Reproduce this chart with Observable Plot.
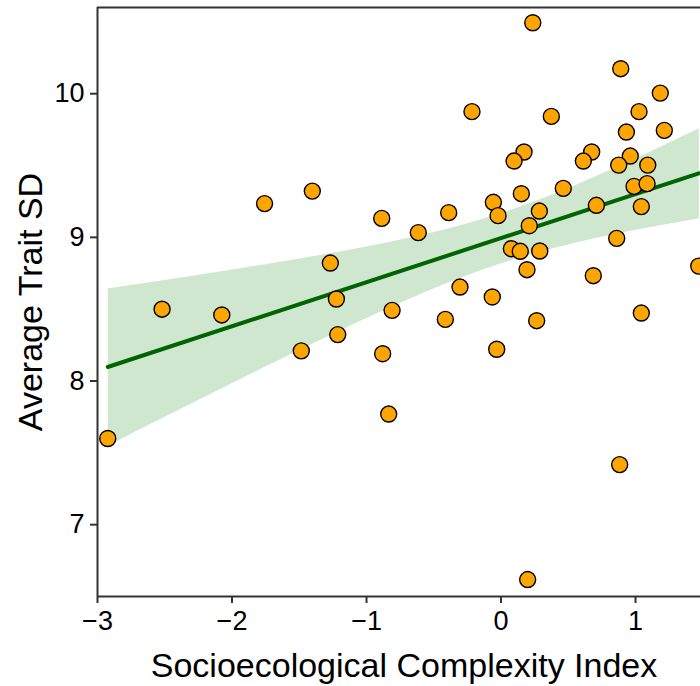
<!DOCTYPE html>
<html>
<head>
<meta charset="utf-8">
<script src="https://cdn.jsdelivr.net/npm/d3@7"></script>
<script src="https://cdn.jsdelivr.net/npm/@observablehq/plot@0.6"></script>
<style>
  html, body { margin: 0; padding: 0; background: #fff; }
  #chart svg { display: block; }
</style>
</head>
<body>
<div id="chart"></div>
<script>
// Socioecological Complexity Index (x) and Average Trait SD (y)
const complexity = [
  -2.924, -2.52, -2.076, -1.758, -1.403, -1.485, -1.269, -1.224, -1.214,
  0.236, 0.89, 1.184, 1.026, -0.216, 0.374, 0.932, 1.214, 0.171, 0.097,
  0.674, 0.612, 0.961, 0.875, 1.091,
  -0.887, -0.615, -0.389, -0.057, -0.022, 0.151, 0.285, 0.463, 0.21, 0.709,
  0.989, 1.086, 1.043,
  0.077, 0.143, 0.288, 0.193, 0.86, 1.47, 0.686, -0.305, -0.065, -0.81,
  -0.414, 0.265, 1.043,
  -0.88, -0.032, -0.835, 0.882, 0.198
];
const traitSD = [
  7.60, 8.50, 8.46, 9.235, 9.322, 8.21, 8.821, 8.571, 8.323,
  10.494, 10.174, 10.004, 9.875, 9.875, 9.842, 9.733, 9.745, 9.594, 9.531,
  9.594, 9.531, 9.566, 9.503, 9.503,
  9.132, 9.033, 9.172, 9.244, 9.151, 9.304, 9.183, 9.341, 9.081, 9.223,
  9.355, 9.374, 9.214,
  8.921, 8.903, 8.905, 8.775, 8.993, 8.80, 8.733, 8.654, 8.585, 8.492,
  8.429, 8.42, 8.473,
  8.19, 8.221, 7.77, 7.418, 6.618
];
const xTicks = [-3, -2, -1, 0, 1];
const yTicks = [7, 8, 9, 10];
const xDomain = [-3, 1.483];
const yDomain = [6.5, 10.6];

const data = complexity.map((x, i) => ({x, y: traitSD[i]}));

const chart = Plot.plot({
  width: 700,
  height: 686,
  marginLeft: 97,
  marginRight: 0,
  marginTop: 7,
  marginBottom: 90,
  style: {fontFamily: "'Liberation Sans', Arial, sans-serif", fontSize: "27px", background: "#fff", color: "black"},
  x: {domain: xDomain, ticks: xTicks, label: null},
  y: {domain: yDomain, ticks: yTicks, label: null},
  marks: [
    Plot.linearRegressionY(data, {x: "x", y: "y", stroke: "#006400", strokeWidth: 4, fill: "green", fillOpacity: 0.19, ci: 0.95, clip: true}),
    Plot.dot(data, {x: "x", y: "y", r: 8, fill: "#FFA500", stroke: "black", strokeWidth: 1.4}),
    Plot.ruleY(yDomain, {stroke: "#333", strokeWidth: 2}),
    Plot.ruleX([xDomain[0]], {stroke: "#333", strokeWidth: 2}),
    Plot.axisX({ticks: xTicks, tickSize: 7, tickPadding: 7, fontSize: 27, stroke: "#333", strokeWidth: 2, fill: "black", tickFormat: d => d < 0 ? "\u2212" + Math.abs(d) : String(d), label: null}),
    Plot.axisY({ticks: yTicks, tickSize: 7, tickPadding: 6, fontSize: 27, stroke: "#333", strokeWidth: 2, fill: "black", tickFormat: d => String(d), label: null}),
    Plot.text(["Socioecological Complexity Index"], {frameAnchor: "bottom", dy: 70, dx: 5, fontSize: 34, fill: "black", textAnchor: "middle", lineAnchor: "middle"}),
    Plot.text(["Average Trait SD"], {frameAnchor: "left", dx: -66, rotate: -90, fontSize: 34, fill: "black", textAnchor: "middle", lineAnchor: "middle"})
  ]
});
document.getElementById("chart").appendChild(chart);
</script>
</body>
</html>
